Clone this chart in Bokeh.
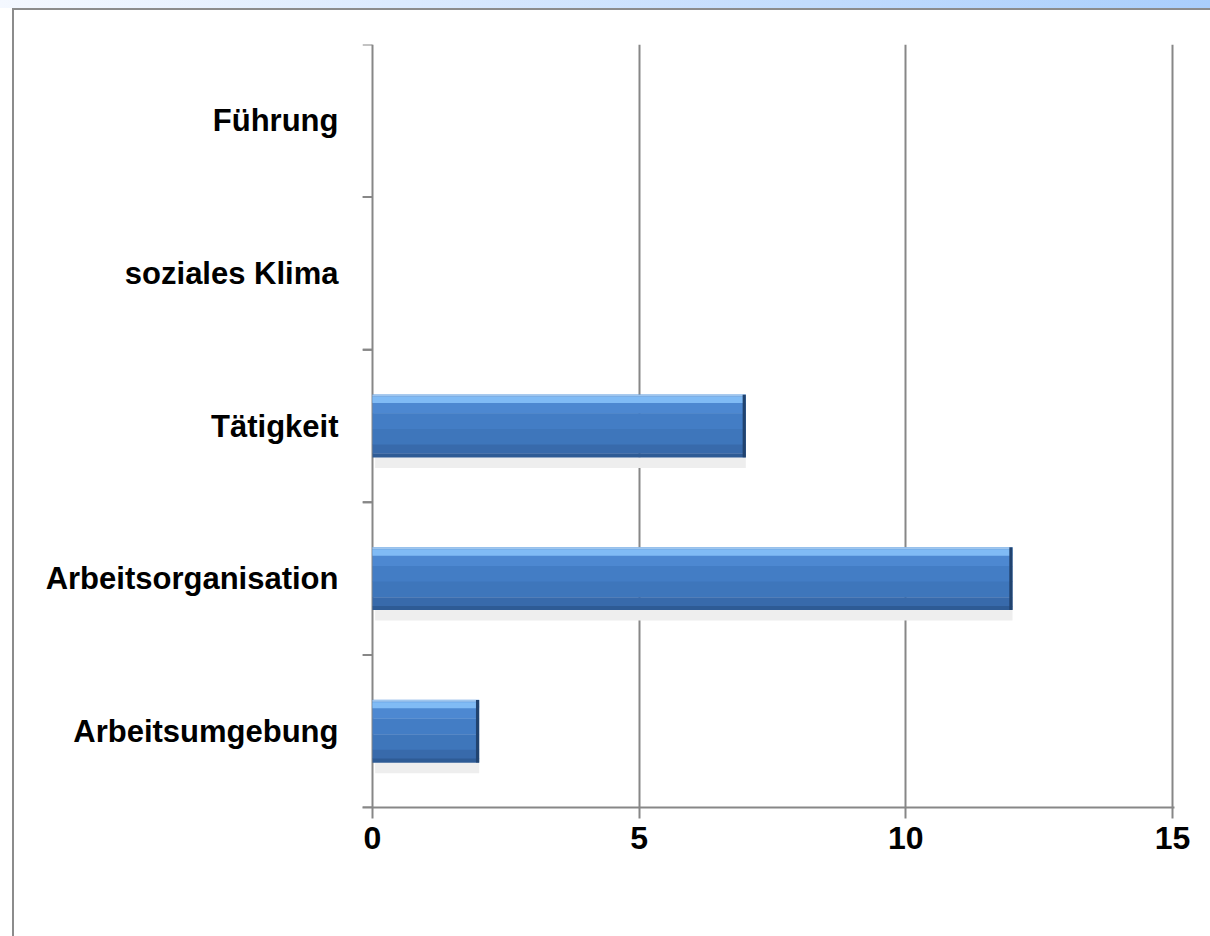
from bokeh.plotting import figure
from bokeh.models import FixedTicker, ColumnDataSource
from bokeh.transform import dodge
from bokeh.embed import file_html
from bokeh.resources import INLINE

# ---- data ----
categories = ["Arbeitsumgebung", "Arbeitsorganisation", "Tätigkeit", "soziales Klima", "Führung"]
values = [2, 12, 7, 0, 0]
x_ticks = [0, 5, 10, 15]

GRAY = "#878787"
FONT = "Liberation Sans"

p = figure(width=1210, height=936, y_range=categories, x_range=(-0.1875, 15.0375),
           output_backend="svg", toolbar_location=None,
           min_border_left=348, min_border_right=50, min_border_top=34, min_border_bottom=139)
p.outline_line_color = None
p.background_fill_color = "white"
p.border_fill_color = "white"
p.styles = {
    "padding-left": "14px",
    "padding-top": "10px",
    "background": ("linear-gradient(#8c8c8c,#8c8c8c) 12px 8px / 2px 100% no-repeat, "
                   "linear-gradient(#8c8c8c,#8c8c8c) 12px 8px / 100% 2px no-repeat, "
                   "linear-gradient(to right, #f4f8ff, #a9cefc) 0 0 / 100% 8px no-repeat, white"),
}

# grid
p.ygrid.grid_line_color = None
p.xgrid.grid_line_color = GRAY
p.xgrid.grid_line_width = 2
p.xgrid.ticker = FixedTicker(ticks=x_ticks)

# x axis
xa = p.xaxis[0]
xa.ticker = FixedTicker(ticks=x_ticks)
xa.axis_line_color = GRAY
xa.axis_line_width = 2
xa.major_tick_line_color = GRAY
xa.major_tick_line_width = 2
xa.major_tick_in = 0
xa.major_tick_out = 11
xa.minor_tick_line_color = None
xa.major_label_text_font = FONT
xa.major_label_text_font_style = "bold"
xa.major_label_text_font_size = "32px"
xa.major_label_text_color = "black"
xa.major_label_standoff = 8

# y axis (labels only)
ya = p.yaxis[0]
ya.axis_line_color = None
ya.major_tick_line_color = None
ya.minor_tick_line_color = None
ya.major_label_text_font = FONT
ya.major_label_text_font_style = "bold"
ya.major_label_text_font_size = "31px"
ya.major_label_text_color = "black"
ya.major_label_standoff = 18

src = ColumnDataSource(dict(
    cat=categories,
    value=values,
    edge=[max(v - 0.06, 0) for v in values],
    shadow_left=[min(0.05, v) for v in values],
))

# y tick marks on band boundaries
p.segment(x0=-0.1875, x1=0, y0=dodge("cat", -0.5, range=p.y_range),
          y1=dodge("cat", -0.5, range=p.y_range), source=src, line_color=GRAY, line_width=2)
p.segment(x0=-0.1875, x1=0, y0=dodge("cat", 0.5, range=p.y_range),
          y1=dodge("cat", 0.5, range=p.y_range), source=src, line_color=GRAY, line_width=2)

H = 0.41
# shadow
p.hbar(y=dodge("cat", -H / 2 - 0.035, range=p.y_range), height=0.07, left="shadow_left", right="value",
       source=src, fill_color="#eeeeee", line_color=None)
# body gradient layers (top to bottom)
layers = [("#5b98de", 0.0, 0.10), ("#4d88d1", 0.10, 0.30), ("#437dc5", 0.30, 0.55),
          ("#3e76bb", 0.55, 0.80), ("#386aab", 0.80, 0.94), ("#2e5b95", 0.94, 1.0)]
for col, a, b in layers:
    off = H / 2 - H * (a + b) / 2
    p.hbar(y=dodge("cat", off, range=p.y_range), height=H * (b - a) + 0.002, left=0, right="value",
           source=src, fill_color=col, line_color=None)
# top highlight
p.hbar(y=dodge("cat", H / 2 - 0.035, range=p.y_range), height=0.04, left=0, right="value",
       source=src, fill_color="#80bbf5", line_color=None)
p.hbar(y=dodge("cat", H / 2 - 0.006, range=p.y_range), height=0.012, left=0, right="value",
       source=src, fill_color="#9fc6ee", line_color=None)
# dark right edge
p.hbar(y="cat", height=H, left="edge", right="value",
       source=src, fill_color="#21436f", line_color=None)

open("out.html", "w").write(file_html(p, INLINE))
